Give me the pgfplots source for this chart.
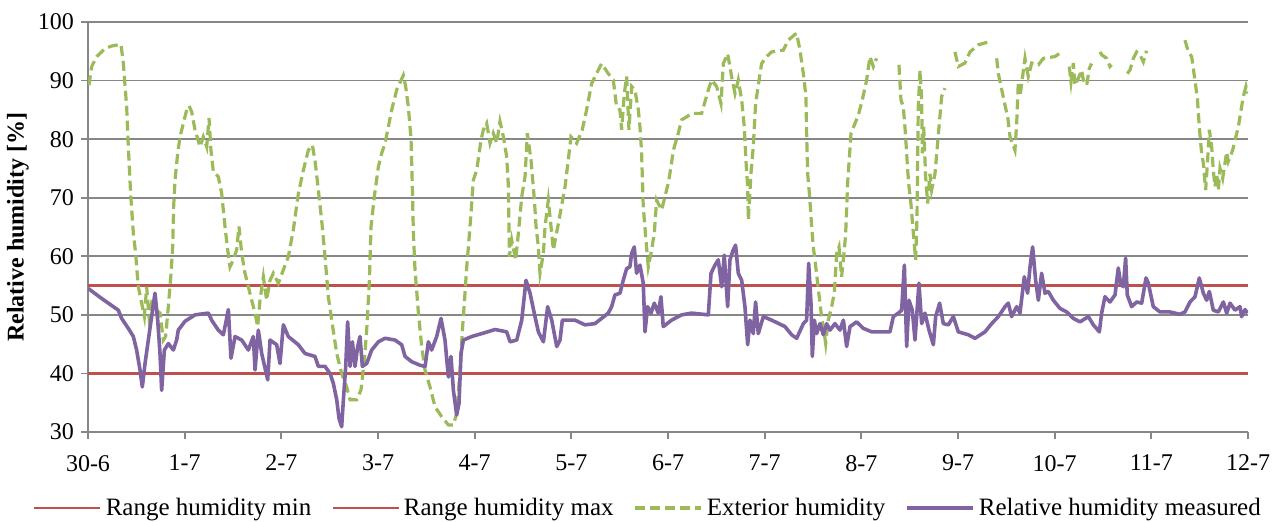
\documentclass[border=0pt]{standalone}
\usepackage{fontspec}
\setmainfont{Liberation Serif}
\usepackage{pgfplots}
\pgfplotsset{compat=1.18}
\usetikzlibrary{calc}

\definecolor{rngred}{HTML}{C0504D}
\definecolor{extgreen}{HTML}{9BBB59}
\definecolor{measpurple}{HTML}{8064A2}
\definecolor{gridgray}{HTML}{878787}

\begin{document}
\begin{tikzpicture}
\begin{axis}[
  scale only axis,
  width=580pt, height=205pt,
  xmin=0, xmax=12, ymin=30, ymax=100,
  axis x line=bottom, axis y line=left,
  axis line style={gridgray, line width=0.9pt, -},
  xtick={0,1,...,12},
  xticklabels={30-6,1-7,2-7,3-7,4-7,5-7,6-7,7-7,8-7,9-7,10-7,11-7,12-7},
  ytick={30,40,...,100},
  tick align=outside,
  major tick length=3.5pt,
  tick style={gridgray, line width=0.9pt},
  ymajorgrids,
  grid style={gridgray, line width=0.9pt},
  /pgf/number format/assume math mode=true,
  tick label style={font=\fontsize{12}{14}\selectfont},
  xticklabel style={yshift=-4.5pt},
  unbounded coords=jump,
  legend columns=4,
  legend style={at={(0.4836,-0.1854)}, anchor=center, draw=none, fill=none,
    font=\fontsize{12.5}{14}\selectfont,
    /tikz/every odd column/.append style={column sep=0pt},
    /tikz/every even column/.append style={column sep=8pt}},
  legend image code/.code={\draw[#1] (0pt,0pt) -- (33pt,0pt);},
]
\addplot[rngred, line width=1.3pt] coordinates {(0,40) (12,40)};
\addplot[rngred, line width=1.3pt] coordinates {(0,55) (12,55)};
\addplot[extgreen, line width=1.6pt, dash pattern=on 5pt off 2.5pt] coordinates {
(0.010,89.2) (0.038,92.4) (0.090,94.1) (0.141,94.9) (0.176,95.5) (0.245,95.9) (0.341,96.2) (0.366,92.9) (0.400,85.5) (0.417,78.7) (0.441,70.7) (0.469,63.9) (0.493,60.5) (0.503,58.2) (0.521,54.8) (0.555,52.0) (0.583,49.7) (0.607,54.8) (0.634,49.1) (0.659,52.0) (0.710,50.8) (0.745,50.3) (0.779,45.7) (0.803,46.3) (0.831,51.4) (0.859,57.1) (0.876,61.6) (0.886,68.5) (0.900,73.0) (0.928,77.6) (0.952,80.4) (0.986,82.7) (1.021,85.0) (1.045,85.7) (1.072,84.7) (1.107,81.6) (1.159,78.7) (1.193,80.4) (1.228,78.7) (1.252,83.6) (1.272,78.1) (1.297,74.4) (1.348,73.6) (1.383,70.7) (1.417,65.1) (1.445,61.1) (1.469,58.2) (1.503,59.4) (1.538,61.1) (1.562,65.1) (1.590,60.5) (1.624,57.1) (1.659,54.8) (1.693,52.5) (1.728,50.3) (1.755,48.0) (1.779,52.5) (1.814,56.5) (1.848,52.5) (1.883,55.9) (1.917,57.1) (1.969,55.4) (2.021,57.7) (2.072,59.9) (2.124,64.5) (2.176,70.7) (2.228,74.7) (2.279,78.1) (2.321,79.0) (2.348,76.4) (2.383,71.3) (2.417,66.2) (2.452,59.9) (2.486,53.1) (2.521,49.1) (2.573,43.4) (2.624,40.0) (2.676,37.7) (2.711,35.5) (2.780,35.5) (2.824,37.2) (2.859,42.3) (2.883,47.4) (2.911,55.9) (2.928,65.1) (2.962,70.2) (3.004,75.3) (3.038,77.6) (3.073,79.3) (3.107,82.1) (3.142,85.0) (3.193,88.4) (3.262,90.9) (3.286,89.0) (3.314,85.5) (3.342,79.9) (3.355,71.9) (3.366,63.9) (3.383,57.7) (3.418,50.3) (3.452,44.6) (3.486,40.6) (3.538,37.7) (3.590,34.3) (3.659,32.6) (3.728,31.2) (3.780,31.2) (3.814,33.2) (3.849,40.6) (3.873,47.4) (3.893,52.0) (3.918,58.2) (3.935,61.6) (3.962,67.3) (3.986,73.0) (4.021,74.7) (4.066,79.9) (4.090,81.6) (4.124,82.7) (4.159,79.3) (4.193,81.0) (4.228,79.3) (4.262,83.0) (4.297,80.4) (4.331,77.0) (4.349,71.9) (4.359,59.9) (4.383,62.8) (4.424,59.4) (4.452,63.9) (4.487,70.2) (4.521,73.6) (4.545,81.0) (4.583,76.4) (4.618,69.6) (4.635,65.1) (4.659,61.6) (4.676,57.1) (4.711,60.5) (4.728,65.1) (4.762,69.6) (4.814,61.1) (4.866,65.6) (4.935,71.9) (4.968,76.4) (4.996,80.4) (5.055,79.3) (5.113,81.6) (5.158,85.0) (5.210,89.5) (5.279,91.8) (5.313,92.9) (5.382,91.2) (5.434,90.1) (5.468,85.5) (5.503,85.0) (5.520,81.6) (5.548,87.8) (5.572,90.7) (5.596,81.6) (5.624,89.0) (5.658,88.4) (5.693,85.0) (5.710,82.1) (5.727,77.6) (5.744,68.5) (5.769,63.3) (5.796,58.2) (5.824,60.5) (5.858,63.9) (5.882,69.6) (5.934,67.9) (6.003,72.5) (6.031,75.3) (6.055,78.1) (6.106,81.0) (6.141,83.3) (6.193,83.8) (6.244,84.4) (6.348,84.4) (6.417,88.4) (6.451,90.1) (6.503,89.0) (6.548,86.1) (6.572,92.9) (6.617,94.6) (6.658,90.7) (6.693,87.8) (6.727,90.1) (6.762,86.7) (6.789,82.1) (6.806,76.4) (6.824,71.9) (6.831,66.2) (6.858,74.1) (6.882,78.7) (6.906,86.1) (6.968,92.9) (7.020,94.1) (7.072,94.9) (7.193,95.2) (7.244,96.9) (7.330,98.1) (7.365,95.2) (7.400,91.2) (7.427,87.3) (7.434,81.0) (7.445,74.1) (7.465,70.2) (7.486,65.1) (7.503,61.6) (7.520,59.4) (7.548,55.4) (7.572,52.0) (7.589,49.7) (7.617,46.8) (7.631,45.1) (7.658,49.1) (7.693,51.4) (7.720,53.7) (7.745,60.5) (7.769,61.6) (7.796,56.5) (7.824,61.1) (7.838,63.9) (7.858,72.5) (7.893,81.0) (7.969,84.1) (8.010,86.7) (8.055,90.1) (8.089,94.1) (8.124,92.4) (8.158,93.8) (8.270,nan) (8.389,92.7) (8.410,86.7) (8.434,85.5) (8.451,82.1) (8.469,77.6) (8.479,74.7) (8.493,71.9) (8.514,68.8) (8.538,63.9) (8.562,59.4) (8.576,66.8) (8.583,77.0) (8.589,85.5) (8.607,91.8) (8.624,86.7) (8.631,77.6) (8.645,82.1) (8.665,73.6) (8.686,69.0) (8.710,74.1) (8.727,71.3) (8.762,74.1) (8.796,80.7) (8.831,87.3) (8.865,88.7) (8.920,nan) (8.969,94.9) (9.003,92.4) (9.072,93.0) (9.124,94.9) (9.210,96.1) (9.314,96.6) (9.360,nan) (9.400,93.8) (9.417,91.2) (9.486,85.8) (9.514,83.8) (9.538,80.4) (9.589,78.1) (9.607,82.7) (9.624,89.8) (9.641,87.3) (9.693,93.8) (9.727,90.7) (9.762,93.0) (9.831,92.7) (9.883,93.8) (10.003,94.1) (10.072,94.9) (10.110,nan) (10.151,92.4) (10.169,89.8) (10.193,93.0) (10.210,89.2) (10.245,90.4) (10.279,91.8) (10.296,90.1) (10.331,89.2) (10.358,92.1) (10.382,92.9) (10.430,nan) (10.469,94.9) (10.486,94.4) (10.538,93.8) (10.572,92.4) (10.589,92.7) (10.670,nan) (10.751,91.2) (10.779,91.8) (10.814,93.8) (10.848,94.9) (10.883,94.4) (10.917,93.2) (10.951,95.1) (11.150,nan) (11.348,96.9) (11.383,94.9) (11.417,94.1) (11.434,92.1) (11.476,87.0) (11.496,82.1) (11.520,77.6) (11.538,75.9) (11.562,71.3) (11.582,76.4) (11.600,81.6) (11.624,78.7) (11.641,74.7) (11.658,71.9) (11.676,74.1) (11.693,71.3) (11.710,75.0) (11.738,73.3) (11.762,75.9) (11.779,77.8) (11.796,76.2) (11.841,78.1) (11.865,79.8) (11.900,82.1) (11.951,87.3) (11.979,89.0) (11.996,87.8)
};
\addplot[measpurple, line width=1.8pt, line join=round] coordinates {
(0.003,54.5) (0.141,52.8) (0.314,50.8) (0.348,49.4) (0.417,47.7) (0.469,46.3) (0.503,44.0) (0.538,40.6) (0.562,37.7) (0.590,41.7) (0.624,45.7) (0.693,53.7) (0.721,49.1) (0.745,43.4) (0.762,37.1) (0.790,44.0) (0.831,45.1) (0.883,44.0) (0.917,45.7) (0.934,47.4) (1.003,48.9) (1.107,50.0) (1.245,50.3) (1.279,49.1) (1.348,47.4) (1.400,46.6) (1.452,50.9) (1.479,42.6) (1.521,46.3) (1.590,45.7) (1.659,44.0) (1.710,46.3) (1.728,40.6) (1.762,47.4) (1.797,43.4) (1.859,38.9) (1.883,45.7) (1.952,44.9) (1.986,41.7) (2.021,48.3) (2.072,46.3) (2.176,44.9) (2.245,43.4) (2.348,42.9) (2.383,41.2) (2.452,41.2) (2.504,40.0) (2.538,38.3) (2.573,35.5) (2.597,32.3) (2.624,30.9) (2.642,35.5) (2.666,41.2) (2.686,48.8) (2.711,41.2) (2.735,45.4) (2.762,41.2) (2.790,44.6) (2.814,46.3) (2.838,41.2) (2.883,41.7) (2.935,44.0) (3.004,45.4) (3.073,46.0) (3.176,45.7) (3.245,44.9) (3.280,42.9) (3.349,42.0) (3.435,41.4) (3.487,41.2) (3.521,45.4) (3.555,44.0) (3.607,46.3) (3.652,49.4) (3.693,45.7) (3.728,39.4) (3.755,42.9) (3.780,37.1) (3.814,32.9) (3.838,34.9) (3.859,43.4) (3.883,45.7) (3.969,46.3) (4.073,46.8) (4.211,47.5) (4.331,47.1) (4.366,45.4) (4.435,45.7) (4.487,49.1) (4.531,55.9) (4.573,53.7) (4.624,49.7) (4.659,47.1) (4.711,45.4) (4.755,51.4) (4.797,49.1) (4.849,44.6) (4.883,45.7) (4.907,49.1) (4.986,49.1) (5.037,49.1) (5.141,48.3) (5.244,48.5) (5.382,50.3) (5.417,51.4) (5.451,53.4) (5.503,53.7) (5.537,55.9) (5.572,57.9) (5.606,58.2) (5.624,60.5) (5.651,61.6) (5.675,57.1) (5.710,58.5) (5.744,55.4) (5.762,47.1) (5.789,51.4) (5.824,50.3) (5.858,52.0) (5.899,50.3) (5.927,53.1) (5.951,48.0) (6.037,49.1) (6.141,50.0) (6.244,50.3) (6.417,50.0) (6.445,57.1) (6.486,58.5) (6.520,59.4) (6.555,54.8) (6.582,60.2) (6.617,51.4) (6.641,59.4) (6.675,61.1) (6.699,61.9) (6.727,57.1) (6.762,55.9) (6.796,51.4) (6.824,44.9) (6.848,49.1) (6.882,46.8) (6.906,52.2) (6.934,46.8) (6.986,49.7) (7.072,49.1) (7.210,48.0) (7.279,46.6) (7.331,46.0) (7.400,48.5) (7.434,49.1) (7.455,58.8) (7.479,52.0) (7.493,42.9) (7.514,49.1) (7.538,46.8) (7.572,48.5) (7.607,46.6) (7.641,48.5) (7.676,47.4) (7.727,48.5) (7.779,47.4) (7.814,49.1) (7.848,44.6) (7.883,48.0) (7.951,48.8) (8.020,47.7) (8.107,47.1) (8.245,47.1) (8.296,47.1) (8.331,49.7) (8.383,50.3) (8.417,50.8) (8.445,58.5) (8.469,44.6) (8.493,52.5) (8.527,50.8) (8.555,45.7) (8.596,55.4) (8.624,48.5) (8.658,50.3) (8.700,47.4) (8.745,44.9) (8.769,49.7) (8.810,52.0) (8.848,48.5) (8.900,48.3) (8.952,49.7) (9.003,47.1) (9.107,46.6) (9.176,46.0) (9.279,47.1) (9.348,48.5) (9.417,49.7) (9.486,51.4) (9.520,52.0) (9.555,49.7) (9.607,51.4) (9.641,50.3) (9.686,56.5) (9.720,53.7) (9.745,58.2) (9.772,61.6) (9.803,55.9) (9.831,52.5) (9.865,57.1) (9.900,53.7) (9.934,54.0) (9.986,52.5) (10.055,51.1) (10.124,50.5) (10.193,49.4) (10.262,48.8) (10.348,49.7) (10.400,48.3) (10.462,47.1) (10.486,50.3) (10.520,53.1) (10.572,52.2) (10.624,53.4) (10.658,58.0) (10.682,55.4) (10.710,54.8) (10.734,59.7) (10.751,53.4) (10.796,51.4) (10.848,52.2) (10.900,52.0) (10.945,56.3) (10.969,55.4) (11.020,51.4) (11.089,50.5) (11.193,50.5) (11.296,50.1) (11.348,50.5) (11.400,52.2) (11.452,53.1) (11.496,56.3) (11.538,53.7) (11.572,52.5) (11.600,54.0) (11.641,50.8) (11.693,50.5) (11.745,52.2) (11.779,50.3) (11.814,52.0) (11.865,50.8) (11.917,51.4) (11.934,49.7) (11.969,50.9) (11.996,50.3)
};
\legend{Range humidity min, Range humidity max, Exterior humidity, Relative humidity measured}
\coordinate (O) at (rel axis cs:0,0);
\end{axis}
\node[rotate=90, font=\fontsize{12}{14}\selectfont\bfseries, anchor=center]
  at ($(O)+(-35pt,102.5pt)$) {Relative humidity [\%]};
\pgfresetboundingbox
\path[use as bounding box] ($(O)+(-44pt,-44.5pt)$) rectangle ++(639.5pt,260.5pt);
\end{tikzpicture}
\end{document}
